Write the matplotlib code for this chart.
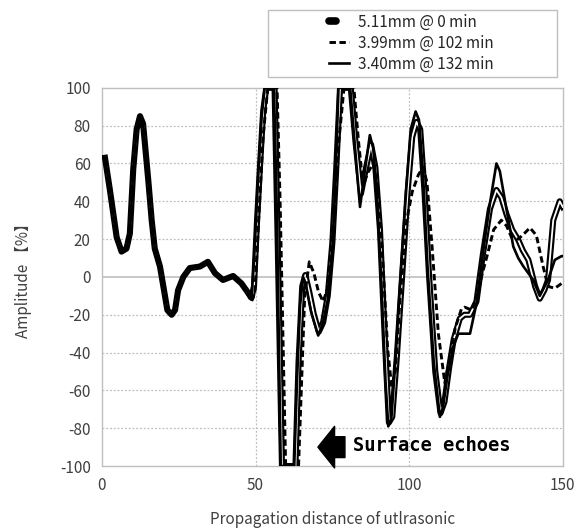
import matplotlib
matplotlib.use('Agg')
import matplotlib.pyplot as plt
from matplotlib.lines import Line2D
from matplotlib.legend_handler import HandlerTuple
from matplotlib.patches import Rectangle

plt.rcParams['font.family'] = ['Noto Sans CJK JP', 'DejaVu Sans']
plt.rcParams['axes.unicode_minus'] = False

# tramo inicial comun a las tres curvas
x_left = [1, 2.6, 4.8, 6.4, 8, 9.1, 10.2, 11.3, 12.4, 13.4, 15.1, 16.2, 17.2, 18.9, 20,
          21.3, 22.7, 23.8, 24.8, 26.5, 28.6, 31.9, 34.5, 36.8, 39.4, 42.7, 45.4, 48.7]
y_left = [63, 46, 21, 13.4, 15, 23, 57, 78, 85, 81, 51, 30, 15, 5.5, -5,
          -17.5, -20, -17.5, -7, 0, 4.7, 5.5, 8, 2, -1.6, 0.5, -3.4, -11]

# 5.11mm @ 0 min
x_a = x_left + [49.5, 50.5, 51.5, 52.5, 53.5, 56.2, 57.2, 58.6, 63, 64, 65.2, 66.2, 67.5, 69,
                70.6, 72, 73.5, 75, 76.2, 77.5, 81, 82.5, 84.3, 86, 87.6, 89, 90.5, 92, 93.4,
                94.5, 96, 97.5, 99.5, 101, 102.4, 103.6, 105, 106.5, 108.5, 110.2, 111.5, 113,
                114.5, 116.5, 118, 119.8, 121.9, 124, 126.3, 128.4, 130, 131.7, 133.5, 135.5,
                137, 138.8, 141, 142.5, 144, 145.2, 146.9, 149, 150]
y_a = y_left + [-5, 30, 60, 88, 100, 100, 20, -100, -100, -45, -5, 1, -8, -20,
                -29, -24, -10, 18, 55, 100, 100, 72, 44, 58, 70, 58, 25, -30, -77,
                -74, -42, -5, 45, 74, 82, 78, 45, 0, -50, -72, -66, -48,
                -33, -22, -20, -20, -13, 12, 36, 46, 42, 33, 25, 19.6,
                14, 9, -5, -11.5, -7, -1.6, 30, 40, 37]

# 3.99mm @ 102 min
x_b = x_left[:-1] + [48.7, 49.8, 51, 52.5, 54, 57, 58, 59.8, 64, 65, 66, 67.5, 69, 70.5, 72,
                     73.5, 75.5, 77, 78.8, 82, 83.5, 85, 86.5, 88.3, 89.7, 91.2, 93, 94.3,
                     95.5, 97, 99.2, 101, 103, 104.5, 105.8, 107.5, 109.5, 111.6, 113, 115,
                     117, 118.1, 120.3, 121.9, 123.5, 125.5, 127.5, 130, 131.7, 133.3, 135.5,
                     137.5, 139.3, 141.4, 143.6, 145.2, 147.4, 150]
y_b = y_left[:-1] + [-13, -8, 30, 75, 100, 100, 40, -100, -100, -55, -10, 8, 2, -8, -13,
                     -6, 30, 70, 100, 100, 72, 48, 55, 60, 48, 15, -38, -58,
                     -50, -12, 30, 45, 54, 58, 50, 15, -30, -56, -45, -27,
                     -17, -16, -17.5, -12, 0, 12, 25, 30, 27, 21, 20,
                     23, 26, 22, 5.5, -5, -6, -3]

# 3.40mm @ 132 min
x_c = x_left + [49.5, 50.8, 52, 53, 56, 57, 58.2, 62.6, 63.5, 64.5, 65.5, 66.5, 68, 70.4, 72,
                73.5, 75, 76, 77, 80.8, 82.3, 84, 85.5, 87.2, 88.3, 89.5, 91, 92.3, 93.2, 94.2,
                95.5, 97, 99, 100.5, 102.1, 103.2, 104.5, 106, 108, 110, 111, 112.5, 114.3,
                116, 118, 119.8, 121.9, 124, 126.3, 128.4, 129.5, 131.7, 133.9, 135.5, 137.2,
                140.4, 142.5, 145.2, 147.4, 149.6, 150]
y_c = y_left + [8, 51, 85, 100, 100, 30, -100, -100, -55, -15, 0, -5, -18, -31, -24,
                -12, 15, 50, 100, 100, 70, 37, 55, 75, 68, 45, -5, -55, -79, -75,
                -45, -5, 45, 78, 87.5, 83, 55, 5, -45, -74, -69, -52, -37,
                -30, -30, -30, -14, 12.5, 39, 60, 56, 35.5, 16, 10, 5.5,
                -1.6, -10, -1.6, 9, 11, 11]

labels = ['5.11mm @ 0 min', '3.99mm @ 102 min', '3.40mm @ 132 min']

fig = plt.figure(figsize=(5.79, 5.29), dpi=100)
ax = fig.add_axes([0.176, 0.119, 0.796, 0.715])

# linea doble: negra gruesa con centro blanco
ax.plot(x_a, y_a, color='black', lw=4.4, solid_joinstyle='round', zorder=3)
ax.plot(x_a, y_a, color='white', lw=1.3, solid_joinstyle='round', zorder=3.1)
ax.plot(x_b, y_b, color='black', lw=2.1, dashes=(2.2, 1.2), zorder=4)
ax.plot(x_c, y_c, color='black', lw=1.9, zorder=5)

ax.set_xlim(0, 150)
ax.set_ylim(-100, 100)
ax.set_xticks([0, 50, 100, 150])
ax.set_yticks(range(-100, 101, 20))
ax.tick_params(length=0, labelsize=11, labelcolor='#404040', pad=8)
for s in ax.spines.values():
    s.set_color('#bfbfbf')
    s.set_linewidth(1.0)
for yv in range(-80, 100, 20):
    if yv == 0:
        ax.axhline(0, color='#bfbfbf', lw=1.2, zorder=1)
    else:
        ax.axhline(yv, color='#bfbfbf', lw=0.9, ls=(0, (1.5, 1.5)), zorder=1)
for xv in [50, 100]:
    ax.axvline(xv, color='#bfbfbf', lw=0.9, ls=(0, (1.5, 1.5)), zorder=1)

ax.set_xlabel('Propagation distance of utlrasonic', fontsize=11, color='#404040', labelpad=12)
ax.set_ylabel('Amplitude 【%】', fontsize=11, color='#404040', labelpad=20)

ax.annotate('', xy=(70.3, -90), xytext=(79.1, -90),
            arrowprops=dict(arrowstyle='simple,head_length=0.6,head_width=1.5,tail_width=0.75',
                            color='black', mutation_scale=20, shrinkA=0, shrinkB=0), zorder=6)
ax.text(81.6, -89, 'Surface echoes', fontfamily='DejaVu Sans Mono', fontweight='bold',
        fontsize=13.5, va='center', ha='left', color='black', zorder=6)

# leyenda
fig.patches.append(Rectangle((268 / 579, 1 - 77 / 529), 289 / 579, 67 / 529,
                             transform=fig.transFigure, fill=False, edgecolor='#bfbfbf', lw=1.0))
h_a = (Line2D([], [], color='black', lw=5.5, solid_capstyle='round'),
       Line2D([], [], color='white', lw=2.5, solid_capstyle='round'))
h_b = Line2D([], [], color='black', lw=2.1, dashes=(2.2, 1.2))
h_c = Line2D([], [], color='black', lw=1.9)
fig.legend([h_a, h_b, h_c], labels, loc='center', bbox_to_anchor=(411 / 579, 1 - 43 / 529),
           frameon=False, fontsize=11, handlelength=1.3, handletextpad=0.6, labelspacing=0.25,
           labelcolor='#262626', handler_map={tuple: HandlerTuple(ndivide=None)})

fig.savefig('out.png', dpi=100)
